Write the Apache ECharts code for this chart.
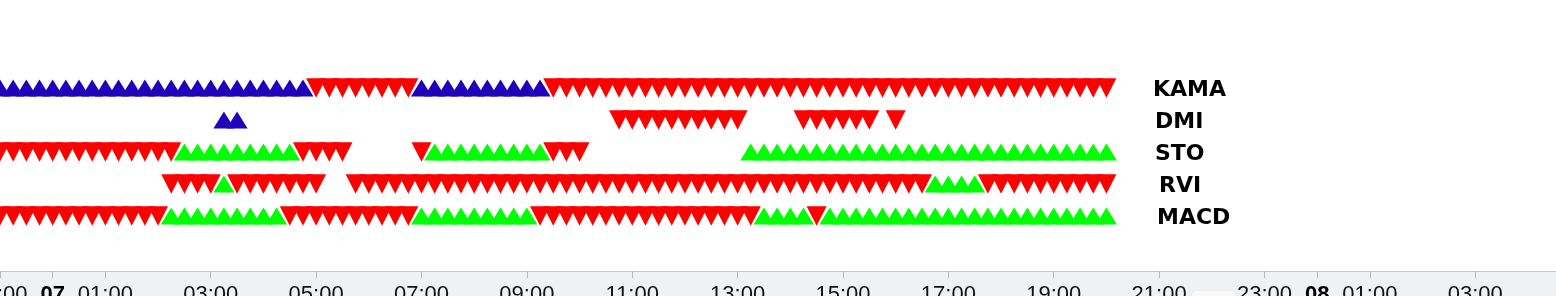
<!DOCTYPE html>
<html>
<head>
<meta charset="utf-8">
<script src="https://cdn.jsdelivr.net/npm/echarts@6/dist/echarts.min.js"></script>
<style>
html,body{margin:0;padding:0;background:#fff;overflow:hidden}
#chart{width:1556px;height:296px}
</style>
</head>
<body>
<div id="chart"></div>
<script>
// Rows (top to bottom)
const indicators = ['KAMA', 'DMI', 'STO', 'RVI', 'MACD'];

// One character per 15-minute bar, starting 06 23:00 (groups of 4 = one hour).
// B = buy (up triangle), S = sell (down triangle), . = no signal
const kamaSignals = 'BBBB BBBB BBBB BBBB BBBB BBBB SSSS SSSS BBBB BBBB BBSS SSSS SSSS SSSS SSSS SSSS SSSS SSSS SSSS SSSS SSSS S';
const dmiSignals  = '.... .... .... .... .BB. .... .... .... .... .... .... ...S SSSS SSSS S... .SSS SSS. S... .... .... .... .';
const stoSignals  = 'SSSS SSSS SSSS SSBB BBBB BBBS SSS. .... SBBB BBBB BBSS S... .... .... .BBB BBBB BBBB BBBB BBBB BBBB BBBB B';
const rviSignals  = '.... .... .... .SSS SBSS SSSS S..S SSSS SSSS SSSS SSSS SSSS SSSS SSSS SSSS SSSS SSSS SSSB BBBS SSSS SSSS S';
const macdSignals = 'SSSS SSSS SSSS SBBB BBBB BBSS SSSS SSSS BBBB BBBB BSSS SSSS SSSS SSSS SSBB BBSB BBBB BBBB BBBB BBBB BBBB B';

const firstBar = '2024-03-06 23:00';
const barMinutes = 15;

// Time axis range and tick labels
const axisStart = '2024-03-06 23:00';
const axisEnd = '2024-03-08 04:32';
const tickTimes = [
  '2024-03-06 23:00', '2024-03-07 00:00', '2024-03-07 01:00', '2024-03-07 03:00',
  '2024-03-07 05:00', '2024-03-07 07:00', '2024-03-07 09:00', '2024-03-07 11:00',
  '2024-03-07 13:00', '2024-03-07 15:00', '2024-03-07 17:00', '2024-03-07 19:00',
  '2024-03-07 21:00', '2024-03-07 23:00', '2024-03-08 00:00', '2024-03-08 01:00',
  '2024-03-08 03:00'
];

function parseTime(s) {
  const [d, t] = s.split(' ');
  const [y, mo, da] = d.split('-').map(Number);
  const [h, mi] = t.split(':').map(Number);
  return new Date(y, mo - 1, da, h, mi).getTime();
}
const pad = n => (n < 10 ? '0' : '') + n;

const rowSignals = {
  KAMA: kamaSignals, DMI: dmiSignals, STO: stoSignals, RVI: rviSignals, MACD: macdSignals
};
const blueRows = ['KAMA', 'DMI'];

const t0 = parseTime(firstBar);
const sellData = [], buyBlueData = [], buyGreenData = [];
indicators.forEach(name => {
  const chars = rowSignals[name].replace(/\s+/g, '');
  for (let i = 0; i < chars.length; i++) {
    const t = t0 + i * barMinutes * 60000;
    const c = chars[i];
    if (c === 'S') sellData.push([t, name]);
    else if (c === 'B') (blueRows.includes(name) ? buyBlueData : buyGreenData).push([t, name]);
  }
});

const labelPad = { KAMA: 0, DMI: 2, STO: 2, RVI: 6, MACD: 4 };
const rich = {};
indicators.forEach(n => {
  rich[n] = {
    fontSize: 22, fontWeight: 'bold', fontFamily: 'DejaVu Sans', color: '#000',
    padding: [4, 0, 0, labelPad[n]]
  };
});

const ticks = tickTimes.map(parseTime);

const chart = echarts.init(document.getElementById('chart'), null, { renderer: 'canvas' });
chart.setOption({
  animation: false,
  backgroundColor: '#fff',
  grid: { left: 0, right: 0, top: 72, height: 160, containLabel: false, outerBoundsMode: 'none' },
  graphic: [
    {
      type: 'rect', left: 0, top: 271, z: -10,
      shape: { width: 1556, height: 25 },
      style: { fill: '#f0f1f3' }
    },
    {
      type: 'rect', left: 1192, top: 291, z: -5,
      shape: { width: 44, height: 12, r: 3 },
      style: { fill: '#f8f8f9', shadowBlur: 2, shadowColor: 'rgba(0,0,0,0.10)' }
    }
  ],
  xAxis: {
    type: 'value',
    min: parseTime(axisStart),
    max: parseTime(axisEnd),
    offset: 39,
    scale: true,
    splitLine: { show: false },
    axisLine: { show: true, lineStyle: { color: '#c3c8ce', width: 1 } },
    axisTick: {
      show: true, length: 7, lineStyle: { color: '#b4b9c0' },
      customValues: ticks
    },
    axisLabel: {
      customValues: ticks,
      margin: 13,
      fontSize: 22,
      fontFamily: 'Liberation Sans',
      color: '#111',
      showMinLabel: true,
      showMaxLabel: true,
      hideOverlap: false,
      formatter: function (value) {
        const d = new Date(value);
        if (d.getHours() === 0 && d.getMinutes() === 0) return '{b|' + pad(d.getDate()) + '}';
        return pad(d.getHours()) + ':' + pad(d.getMinutes());
      },
      rich: {
        b: { fontSize: 22, fontWeight: 'bold', fontFamily: 'Liberation Sans', color: '#000' }
      }
    }
  },
  yAxis: {
    type: 'category',
    data: indicators,
    inverse: true,
    position: 'right',
    offset: -403,
    axisLine: { show: false },
    axisTick: { show: false },
    splitLine: { show: false },
    axisLabel: {
      margin: 0,
      align: 'left',
      fontSize: 22,
      fontWeight: 'bold',
      fontFamily: 'DejaVu Sans',
      color: '#000',
      formatter: v => '{' + v + '|' + v + '}',
      rich: rich
    }
  },
  series: [
    {
      name: 'Buy', type: 'scatter', data: buyBlueData,
      symbol: 'triangle', symbolSize: [21, 17],
      itemStyle: { color: '#2100bb', opacity: 1 }
    },
    {
      name: 'Buy ', type: 'scatter', data: buyGreenData,
      symbol: 'triangle', symbolSize: [21, 17],
      itemStyle: { color: '#00ff00', opacity: 1 }
    },
    {
      name: 'Sell', type: 'scatter', data: sellData,
      symbol: 'triangle', symbolRotate: 180, symbolSize: [20, 19.5],
      itemStyle: { color: '#ff0000', opacity: 1 }
    }
  ]
});
</script>
</body>
</html>
